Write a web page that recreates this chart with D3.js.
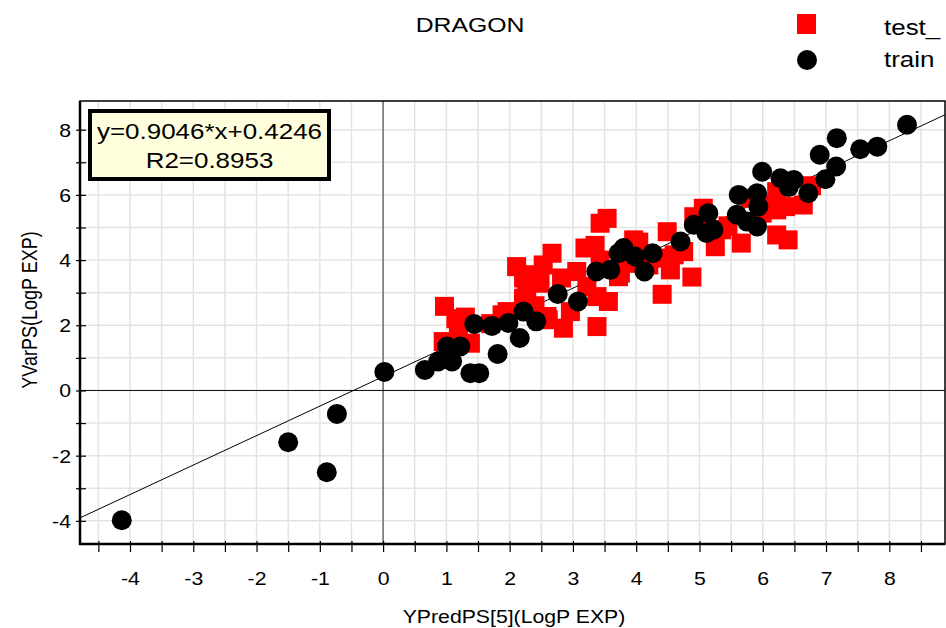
<!DOCTYPE html>
<html>
<head>
<meta charset="utf-8">
<script src="https://cdn.jsdelivr.net/npm/d3@7"></script>
<style>
  html, body { margin: 0; padding: 0; background: #fff; }
  svg { display: block; font-family: "Liberation Sans", Arial, sans-serif; }
</style>
</head>
<body>
<svg id="chart" width="946" height="628"></svg>
<script>
// Observed (YVarPS) vs predicted (YPredPS[5]) LogP, DRAGON descriptors
const chartTitle = "DRAGON";
const xTitle = "YPredPS[5](LogP EXP)";
const yTitle = "YVarPS(LogP EXP)";
const seriesNames = ["test_", "train"];
const seriesColors = ["#ff0000", "#000000"];

const slope = 0.9046;
const intercept = 0.4246;
const r2 = 0.8953;

const xTickValues = [-4, -3, -2, -1, 0, 1, 2, 3, 4, 5, 6, 7, 8];
const yTickValues = [-4, -2, 0, 2, 4, 6, 8];

// test set [pred, observed]
const testPoints = [
  [0.97, 2.58], [1.15, 2.20], [1.30, 2.25], [1.19, 1.81], [0.95, 1.50], [1.38, 1.45], [1.70, 2.05], [1.88, 2.32],
  [1.96, 2.42], [2.22, 2.83], [2.11, 3.80], [2.22, 3.45], [2.35, 3.55], [2.27, 3.14], [2.48, 3.29], [2.53, 3.85],
  [2.67, 4.21], [2.22, 2.73], [2.40, 2.60], [2.59, 2.27], [2.61, 2.17], [2.85, 1.91], [2.82, 3.45], [3.06, 3.65],
  [2.96, 2.42], [3.19, 4.37], [3.43, 5.13], [3.54, 5.28], [3.22, 3.19], [3.38, 2.88], [3.56, 2.73], [3.38, 1.96],
  [3.43, 4.00], [3.35, 4.45], [3.72, 3.49], [3.75, 3.60], [3.96, 4.62], [4.04, 4.55], [3.85, 3.90], [4.10, 4.10],
  [4.20, 3.85], [4.49, 4.87], [4.75, 4.26], [4.41, 4.06], [4.54, 3.70], [4.41, 2.95], [4.88, 3.48], [5.06, 5.59],
  [4.91, 5.33], [5.25, 4.41], [5.35, 4.93], [5.66, 4.52], [6.22, 4.77], [6.40, 4.62], [6.22, 6.10], [6.22, 5.54],
  [5.99, 5.44], [6.36, 5.64], [6.64, 5.69], [6.77, 6.28], [4.60, 4.16], [5.10, 5.20], [5.45, 5.05], [5.80, 5.90],
  [5.95, 5.70]
];

// training set [pred, observed]
const trainPoints = [
  [-4.13, -3.98], [-1.50, -1.59], [-0.89, -2.51], [-0.73, -0.72], [0.02, 0.57], [0.66, 0.63], [0.87, 0.89],
  [1.09, 0.89], [1.01, 1.35], [1.22, 1.35], [1.38, 0.53], [1.52, 0.53], [1.81, 1.12], [1.44, 2.04], [1.72, 1.98],
  [1.98, 2.07], [2.22, 2.42], [2.42, 2.12], [2.16, 1.61], [2.76, 2.96], [3.08, 2.73], [3.37, 3.65], [3.59, 3.70],
  [3.72, 4.21], [3.80, 4.37], [3.98, 4.11], [4.13, 3.65], [4.26, 4.21], [4.70, 4.57], [4.91, 5.08], [5.14, 5.44],
  [5.11, 4.83], [5.22, 4.93], [5.62, 6.00], [5.91, 6.05], [5.93, 5.64], [5.59, 5.39], [5.75, 5.18], [5.91, 5.03],
  [5.99, 6.71], [6.28, 6.51], [6.49, 6.46], [6.41, 6.24], [6.72, 6.05], [6.99, 6.48], [7.16, 6.87], [6.90, 7.23],
  [7.17, 7.74], [7.54, 7.40], [7.81, 7.48], [8.28, 8.15]
];

const plot = { left: 80, right: 945, top: 101, bottom: 544 };
const stretch = 1.18; // horizontal text stretch used throughout

const svg = d3.select("#chart");

const x = d3.scaleLinear().domain([-4.79, 8.88]).range([plot.left, plot.right]);
const y = d3.scaleLinear().domain([-4.71, 8.88]).range([plot.bottom, plot.top]);

svg.append("defs").append("clipPath").attr("id", "plotClip")
  .append("rect")
  .attr("x", plot.left).attr("y", plot.top)
  .attr("width", plot.right - plot.left).attr("height", plot.bottom - plot.top);

// grid
const xGrid = d3.range(-4.5, 8.51, 0.5);
const yGrid = d3.range(-4, 8.01, 1);
const grid = svg.append("g").attr("stroke", "#e4e4e4").attr("stroke-width", 1.5);
grid.selectAll("line.gx").data(xGrid).join("line")
  .attr("x1", d => x(d)).attr("x2", d => x(d))
  .attr("y1", plot.top).attr("y2", plot.bottom);
grid.selectAll("line.gy").data(yGrid).join("line")
  .attr("y1", d => y(d)).attr("y2", d => y(d))
  .attr("x1", plot.left).attr("x2", plot.right);

// zero lines
svg.append("line").attr("x1", x(0)).attr("x2", x(0)).attr("y1", plot.top).attr("y2", plot.bottom)
  .attr("stroke", "#333").attr("stroke-width", 1);
svg.append("line").attr("x1", plot.left).attr("x2", plot.right).attr("y1", y(0)).attr("y2", y(0))
  .attr("stroke", "#111").attr("stroke-width", 1);

// regression line
const xd = x.domain();
svg.append("line")
  .attr("clip-path", "url(#plotClip)")
  .attr("x1", x(xd[0])).attr("y1", y(slope * xd[0] + intercept))
  .attr("x2", x(xd[1])).attr("y2", y(slope * xd[1] + intercept))
  .attr("stroke", "#000").attr("stroke-width", 1);

// markers
const sq = 19;
svg.append("g").attr("fill", seriesColors[0])
  .selectAll("rect").data(testPoints).join("rect")
  .attr("x", d => x(d[0]) - sq / 2).attr("y", d => y(d[1]) - sq / 2)
  .attr("width", sq).attr("height", sq);

svg.append("g").attr("fill", seriesColors[1])
  .selectAll("circle").data(trainPoints).join("circle")
  .attr("cx", d => x(d[0])).attr("cy", d => y(d[1])).attr("r", 10);

// frame
svg.append("rect")
  .attr("x", plot.left).attr("y", plot.top)
  .attr("width", plot.right - plot.left).attr("height", plot.bottom - plot.top)
  .attr("fill", "none").attr("stroke", "#000").attr("stroke-width", 1.5);
svg.append("line").attr("x1", plot.left).attr("x2", plot.left).attr("y1", plot.top).attr("y2", plot.bottom + 1)
  .attr("stroke", "#000").attr("stroke-width", 2.5);
svg.append("line").attr("x1", plot.left - 1).attr("x2", plot.right).attr("y1", plot.bottom).attr("y2", plot.bottom)
  .attr("stroke", "#000").attr("stroke-width", 2.5);

// axes
const xAxis = d3.axisBottom(x)
  .tickValues(d3.range(-4.5, 8.51, 0.5))
  .tickSize(8)
  .tickFormat(d => (xTickValues.includes(d) ? String(d) : ""));
const gx = svg.append("g").attr("transform", `translate(0,${plot.bottom})`).call(xAxis);
gx.select(".domain").remove();
gx.selectAll(".tick line").attr("y1", -3).attr("stroke", "#000").attr("stroke-width", 1.2);
gx.selectAll(".tick text")
  .attr("y", null).attr("dy", null)
  .attr("transform", `translate(0,41) scale(${stretch},1)`)
  .attr("font-size", 18).attr("fill", "#000")
  .attr("font-family", "'Liberation Sans', Arial, sans-serif");

const yAxis = d3.axisLeft(y)
  .tickValues(d3.range(-4, 8.01, 1))
  .tickSize(4)
  .tickFormat(d => (yTickValues.includes(d) ? String(d) : ""));
const gy = svg.append("g").attr("transform", `translate(${plot.left},0)`).call(yAxis);
gy.select(".domain").remove();
gy.selectAll(".tick line").attr("x1", 6).attr("stroke", "#000").attr("stroke-width", 1.2);
gy.selectAll(".tick text")
  .attr("x", null).attr("dy", "0.36em")
  .attr("transform", `translate(-9,0) scale(${stretch},1)`)
  .attr("font-size", 18).attr("fill", "#000")
  .attr("font-family", "'Liberation Sans', Arial, sans-serif");

// axis titles
svg.append("text")
  .attr("transform", `translate(514,623) scale(${stretch},1)`)
  .attr("text-anchor", "middle").attr("font-size", 18).text(xTitle);
svg.append("text")
  .attr("transform", `translate(37,310) rotate(-90) scale(1,${stretch})`)
  .attr("text-anchor", "middle").attr("font-size", 18).text(yTitle);

// title
svg.append("text")
  .attr("transform", `translate(470,32) scale(${stretch},1)`)
  .attr("text-anchor", "middle").attr("font-size", 21).text(chartTitle);

// legend
const legend = svg.append("g");
legend.append("rect").attr("x", 797).attr("y", 14).attr("width", 19).attr("height", 20).attr("fill", seriesColors[0]);
legend.append("circle").attr("cx", 807).attr("cy", 60).attr("r", 10).attr("fill", seriesColors[1]);
legend.append("text").attr("transform", `translate(884,35) scale(${stretch},1)`)
  .attr("font-size", 22).text(seriesNames[0]);
legend.append("text").attr("transform", `translate(884,67) scale(${stretch},1)`)
  .attr("font-size", 22).text(seriesNames[1]);

// regression equation box
const box = svg.append("g");
box.append("rect").attr("x", 90).attr("y", 111).attr("width", 239).attr("height", 68)
  .attr("fill", "#ffffdd").attr("stroke", "#000").attr("stroke-width", 4);
box.append("text").attr("transform", `translate(209.5,139) scale(${stretch},1)`)
  .attr("text-anchor", "middle").attr("font-size", 22)
  .text(`y=${slope.toFixed(4)}*x+${intercept.toFixed(4)}`);
box.append("text").attr("transform", `translate(209.5,167.5) scale(${stretch},1)`)
  .attr("text-anchor", "middle").attr("font-size", 22)
  .text(`R2=${r2.toFixed(4)}`);
</script>
</body>
</html>
